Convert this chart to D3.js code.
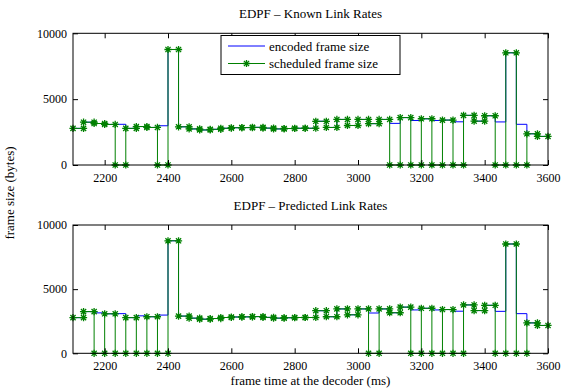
<!DOCTYPE html>
<html>
<head>
<meta charset="utf-8">
<script src="https://cdn.jsdelivr.net/npm/d3@7"></script>
<style>
  body { margin: 0; background: #fff; }
  svg text { font-family: "Liberation Serif", "Times New Roman", serif !important; fill: #000; }
</style>
</head>
<body>
<svg id="chart" width="570" height="390"></svg>
<script>
// frame times at the decoder (ms), one per frame
const frameTimes = [2100, 2133.3, 2166.7, 2200, 2233.3, 2266.7, 2300, 2333.3, 2366.7, 2400,
  2433.3, 2466.7, 2500, 2533.3, 2566.7, 2600, 2633.3, 2666.7, 2700, 2733.3,
  2766.7, 2800, 2833.3, 2866.7, 2900, 2933.3, 2966.7, 3000, 3033.3, 3066.7,
  3100, 3133.3, 3166.7, 3200, 3233.3, 3266.7, 3300, 3333.3, 3366.7, 3400,
  3433.3, 3466.7, 3500, 3533.3, 3566.7, 3600];

// encoded frame size (bytes), same video for both runs
const encodedSize = [2780, 3250, 3150, 3080, 3090, 2780, 2920, 2850, 2980, 8770,
  2900, 2740, 2660, 2710, 2790, 2830, 2840, 2860, 2800, 2740,
  2770, 2790, 2790, 3320, 2850, 3460, 3000, 3460, 3140, 3460,
  3160, 3600, 3380, 3510, 3380, 3410, 3280, 3770, 3330, 3740,
  3270, 8520, 3090, 2370, 2170];

// scheduled frame size, known link rates
const scheduledKnown = [2780, 3250, 3150, 3080, 0, 2780, 2920, 2850, 0, 8770,
  2900, 2740, 2660, 2710, 2790, 2830, 2840, 2860, 2800, 2740,
  2770, 2790, 2790, 3320, 2850, 3460, 3000, 3460, 3140, 3460,
  0, 3600, 0, 3510, 0, 3410, 0, 3770, 3330, 3740,
  0, 8520, 0, 2370, 2170];

// scheduled frame size, predicted link rates
const scheduledPredicted = [2780, 3250, 0, 3080, 0, 2780, 0, 2850, 0, 8770,
  2900, 2740, 2660, 2710, 2790, 2830, 2840, 2860, 2800, 2740,
  2770, 2790, 2790, 3320, 2850, 3460, 3000, 3460, 0, 3460,
  3160, 3600, 0, 3510, 0, 3410, 0, 3770, 3330, 3740,
  0, 8520, 0, 2370, 2170];

const xTicks = [2200, 2400, 2600, 2800, 3000, 3200, 3400, 3600];
const yTicks = [0, 5000, 10000];

const svg = d3.select('#chart');
svg.append('rect').attr('width', 570).attr('height', 390).attr('fill', '#fff');

const x = d3.scaleLinear().domain([2100, 3600]).range([73, 548]);

// corner points of a stairs plot
function stairs(values) {
  const pts = [];
  values.forEach((v, k) => {
    pts.push([frameTimes[k], v]);
    pts.push([frameTimes[k + 1], v]);
  });
  return pts;
}

function starPath(r) {
  const d = r * 0.72;
  return `M${-r},0L${r},0M0,${-r}L0,${r}M${-d},${-d}L${d},${d}M${-d},${d}L${d},${-d}`;
}

function panel(top, bottom, title, scheduled, withLegend) {
  const y = d3.scaleLinear().domain([0, 10000]).range([bottom, top]);
  const g = svg.append('g');

  const line = d3.line().x((d) => x(d[0])).y((d) => y(d[1]));

  g.append('path')
    .datum(stairs(encodedSize))
    .attr('d', line)
    .attr('fill', 'none')
    .attr('stroke', '#0000ff')
    .attr('stroke-width', 1);

  const pts = stairs(scheduled);
  g.append('path')
    .datum(pts)
    .attr('d', line)
    .attr('fill', 'none')
    .attr('stroke', '#008000')
    .attr('stroke-width', 1);

  g.selectAll('.mk')
    .data(pts)
    .enter()
    .append('path')
    .attr('class', 'mk')
    .attr('transform', (d) => `translate(${x(d[0])},${y(d[1])})`)
    .attr('d', starPath(3.6))
    .attr('stroke', '#008000')
    .attr('stroke-width', 1.3);

  // axes, Matlab style: ticks inside, box around
  const fmt = d3.format('d');
  g.append('g')
    .attr('transform', `translate(0,${bottom})`)
    .call(d3.axisBottom(x).tickValues(xTicks).tickSize(-5).tickPadding(8).tickFormat(fmt));
  g.append('g')
    .attr('transform', `translate(0,${top})`)
    .call(d3.axisTop(x).tickValues(xTicks).tickSize(-5).tickFormat(''));
  g.append('g')
    .attr('transform', 'translate(73,0)')
    .call(d3.axisLeft(y).tickValues(yTicks).tickSize(-5).tickPadding(6).tickFormat(fmt));
  g.append('g')
    .attr('transform', 'translate(548,0)')
    .call(d3.axisRight(y).tickValues(yTicks).tickSize(-5).tickFormat(''));

  g.selectAll('.domain').remove();
  g.selectAll('.tick line').attr('stroke', '#000');
  g.selectAll('.tick text').attr('font-size', 12);

  g.append('rect')
    .attr('x', 73).attr('y', top)
    .attr('width', 548 - 73).attr('height', bottom - top)
    .attr('fill', 'none').attr('stroke', '#000').attr('stroke-width', 1);

  g.append('text')
    .attr('x', 310.5).attr('y', top - 15)
    .attr('text-anchor', 'middle')
    .attr('font-size', 13)
    .text(title);

  if (withLegend) {
    const lg = g.append('g');
    lg.append('rect')
      .attr('x', 221).attr('y', 35.5).attr('width', 179).attr('height', 39)
      .attr('fill', '#fff').attr('stroke', '#000');
    const items = [['encoded frame size', '#0000ff', false], ['scheduled frame size', '#008000', true]];
    items.forEach((it, i) => {
      const ly = 46 + i * 17.5;
      lg.append('line')
        .attr('x1', 228).attr('x2', 265).attr('y1', ly).attr('y2', ly)
        .attr('stroke', it[1]);
      if (it[2]) {
        lg.append('path')
          .attr('transform', `translate(246.5,${ly})`)
          .attr('d', starPath(3.6))
          .attr('stroke', it[1])
          .attr('stroke-width', 1.3);
      }
      lg.append('text')
        .attr('x', 269).attr('y', ly + 4.5)
        .attr('font-size', 13)
        .text(it[0]);
    });
  }
}

panel(33.3, 165, 'EDPF \u2013 Known Link Rates', scheduledKnown, true);
panel(225, 353.3, 'EDPF \u2013 Predicted Link Rates', scheduledPredicted, false);

svg.append('text')
  .attr('transform', 'translate(14,193) rotate(-90)')
  .attr('text-anchor', 'middle')
  .attr('font-size', 13)
  .text('frame size (bytes)');

svg.append('text')
  .attr('x', 310.5).attr('y', 385)
  .attr('text-anchor', 'middle')
  .attr('font-size', 13)
  .text('frame time at the decoder (ms)');
</script>
</body>
</html>
